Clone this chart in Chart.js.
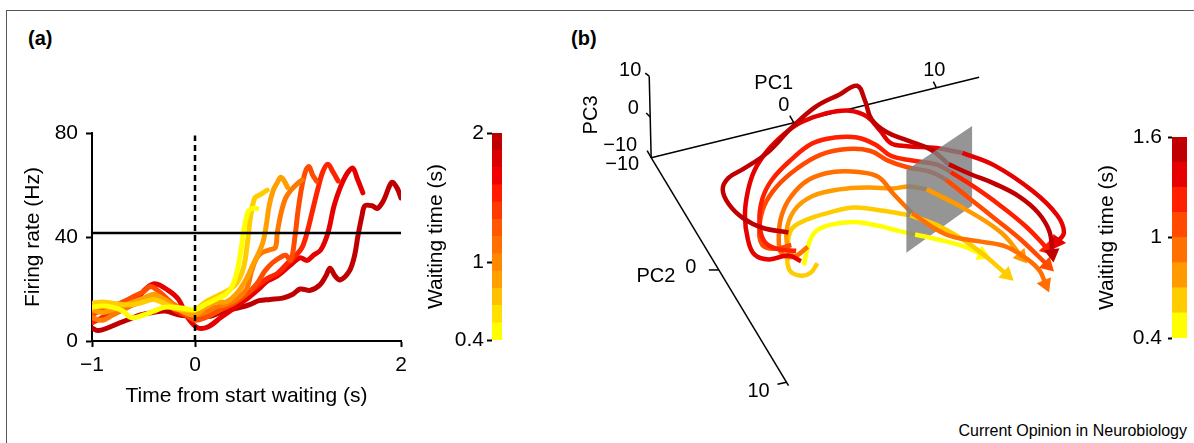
<!DOCTYPE html>
<html>
<head>
<meta charset="utf-8">
<script src="https://cdn.jsdelivr.net/npm/chart.js@4.4.1/dist/chart.umd.min.js"></script>
<style>
  html, body { margin: 0; padding: 0; background: #fff; }
  body { width: 1194px; height: 443px; position: relative; overflow: hidden;
         font-family: "Liberation Sans", Arial, Helvetica, sans-serif; color: #000; }
  canvas { position: absolute; }
  .frame { position: absolute; left: 6px; top: 10px; width: 1300px; height: 500px;
           border-left: 1px solid #555; border-top: 1px solid #555; }
  .panel { position: absolute; font-weight: bold; font-size: 20px; line-height: 20px; }
  .credit { position: absolute; right: 7px; top: 423px; font-size: 16px; line-height: 16px; }
</style>
</head>
<body>
<div class="frame"></div>
<div class="panel" style="left:28px; top:28px;">(a)</div>
<div class="panel" style="left:571px; top:28px;">(b)</div>
<div class="credit">Current Opinion in Neurobiology</div>

<canvas id="chartA" width="430" height="443" style="left:0; top:0;"></canvas>
<canvas id="barA" width="100" height="443" style="left:410px; top:0;"></canvas>
<canvas id="chartB" width="540" height="443" style="left:560px; top:0;"></canvas>
<canvas id="barB" width="104" height="443" style="left:1090px; top:0;"></canvas>

<script>
var FONT = '"Liberation Sans", Arial, Helvetica, sans-serif';

// Panel (a): firing rate (Hz) vs time from start waiting (s) ----------
var traceYellow = [[-1,13],[-0.9,13.5],[-0.8,13],[-0.7,11.5],[-0.62,9],[-0.5,10],[-0.4,11.5],[-0.3,13],[-0.2,13],[-0.1,12.5],[0,12],[0.1,14],[0.2,16],[0.3,18],[0.36,21],[0.41,27],[0.45,36],[0.48,44],[0.52,50],[0.56,51],[0.6,51]];
var traceGold = [[-1,14.5],[-0.9,15],[-0.8,14.5],[-0.7,14],[-0.6,14],[-0.5,15],[-0.4,16],[-0.3,14.5],[-0.2,12.5],[-0.1,12],[0,12],[0.1,15],[0.2,17],[0.3,19],[0.4,22],[0.47,28],[0.51,38],[0.54,48],[0.58,55],[0.62,56],[0.66,57],[0.7,58]];
var traceOrange = [[-1,12],[-0.9,11],[-0.8,12],[-0.7,13.5],[-0.6,15],[-0.5,16.5],[-0.4,18],[-0.3,16],[-0.2,13],[-0.1,11],[0,10],[0.1,13],[0.2,15],[0.3,15],[0.4,18],[0.5,24],[0.57,30],[0.62,34],[0.66,38],[0.69,44],[0.72,52],[0.76,58],[0.8,61],[0.83,63],[0.86,62],[0.9,59]];
var traceDarkOrange = [[-1,9],[-0.9,8],[-0.8,10],[-0.7,12],[-0.6,14],[-0.5,16],[-0.4,17],[-0.3,16],[-0.2,14],[-0.1,11],[0,10],[0.1,11],[0.2,13],[0.3,14],[0.4,16],[0.5,20],[0.55,27],[0.6,32],[0.65,34],[0.72,35],[0.78,36],[0.8,42],[0.84,50],[0.88,55],[0.93,58],[0.98,60],[1.04,62]];
var traceOrangeRed = [[-1,10],[-0.9,12],[-0.8,13],[-0.7,15],[-0.6,17],[-0.5,19],[-0.43,21],[-0.35,19],[-0.25,15.5],[-0.12,11],[0,8],[0.1,9],[0.2,11],[0.3,13],[0.4,15],[0.5,18],[0.6,22],[0.68,27],[0.75,30],[0.82,32],[0.88,33],[0.93,31],[0.97,40],[1.0,50],[1.04,60],[1.08,66],[1.11,67],[1.14,64],[1.18,61.5]];
var traceRedOrange = [[-1,7],[-0.9,9],[-0.8,11],[-0.7,13],[-0.6,14],[-0.5,16],[-0.4,17],[-0.3,15],[-0.2,12],[-0.1,10],[0,9.5],[0.1,10],[0.2,12],[0.3,14],[0.4,16],[0.5,18],[0.6,21],[0.7,24],[0.8,26],[0.9,30],[0.98,33],[1.04,36],[1.09,42],[1.14,50],[1.19,58],[1.24,65],[1.29,68],[1.34,65],[1.39,61.5]];
var traceRed = [[-1,10],[-0.91,12.5],[-0.77,14],[-0.68,15],[-0.55,17],[-0.48,20],[-0.39,22],[-0.26,19.5],[-0.16,16],[-0.07,9],[0.03,5],[0.13,5.5],[0.25,9],[0.39,13],[0.53,17],[0.62,20],[0.7,23],[0.8,25],[0.92,29],[1.02,32],[1.09,31],[1.15,33],[1.22,35],[1.29,41.5],[1.35,52],[1.41,59],[1.47,64],[1.53,66.5],[1.58,62],[1.63,57]];
var traceDarkRed = [[-1,5],[-0.94,4],[-0.85,5],[-0.73,7],[-0.63,8.5],[-0.53,10],[-0.4,11],[-0.29,11.5],[-0.15,10],[0,9.5],[0.15,9.5],[0.25,11],[0.34,12],[0.45,13],[0.53,14],[0.62,15.5],[0.73,16],[0.85,16.5],[0.95,18],[1.02,20],[1.12,19.5],[1.21,21.5],[1.27,25],[1.31,28],[1.36,25],[1.41,23.5],[1.5,27],[1.55,33],[1.58,40],[1.62,48],[1.65,52],[1.72,52],[1.77,51],[1.83,54],[1.91,61],[1.96,59],[2,55]];
var tracesA = [traceYellow, traceGold, traceOrange, traceDarkOrange, traceOrangeRed, traceRedOrange, traceRed, traceDarkRed];
var colorsA = ['#ffff00', '#ffcc00', '#ffa000', '#ff7800', '#ff4c00', '#ff2400', '#e60000', '#c00000'];
var thresholdHz = 41.5;
var xTicksA = [-1, 0, 2];
var yTicksA = [0, 40, 80];

// Colour bar (a): waiting time (s)
var edgesBarA = [0.4, 0.533, 0.667, 0.8, 0.933, 1.067, 1.2, 1.333, 1.467, 1.6, 1.733, 1.867, 2.0];
var colorsBarA = ['#ffff00', '#ffe000', '#ffc000', '#ffa000', '#ff8800', '#ff7000', '#ff5800', '#ff3a00', '#ff1a00', '#f00000', '#d80000', '#c00000'];
var ticksBarA = [0.4, 1, 2];

// Panel (b): trajectories in the projected PC view (view units) ----------
var trajDarkRed = [[22.7,23.3],[20.0,22.8],[18.0,21.8],[16.5,20.3],[15.9,18.8],[16.5,17.6],[18.0,16.7],[20.5,15.0],[23.0,12.4],[25.5,10.2],[28.0,8.9],[29.8,8.0],[30.6,9.5],[31.3,11.5],[32.8,12.8],[35.0,13.7],[37.5,14.7],[39.3,16.2],[41.5,17.2],[44.0,18.2],[46.5,19.5],[48.5,21.2],[49.7,23.2],[50.0,25.5]];
var trajRed = [[24.0,26.3],[22.7,25.7],[20.7,26.1],[19.2,25.6],[18.5,24.0],[18.2,21.5],[18.5,19.0],[19.2,16.8],[20.5,14.8],[22.3,13.0],[24.0,11.8],[26.5,10.9],[29.0,10.6],[30.8,11.2],[32.2,12.7],[33.3,14.0],[35.0,14.3],[38.0,14.5],[40.7,15.0],[44.0,16.3],[48.0,19.0],[50.5,21.5],[51.2,23.3],[50.5,24.3]];
var trajRedOrange = [[23.5,25.2],[21.5,25.0],[20.2,24.2],[19.7,22.2],[20.0,19.8],[21.0,17.8],[23.0,15.7],[25.2,14.0],[27.5,13.4],[29.8,13.4],[31.8,14.2],[33.3,15.3],[35.5,15.8],[38.0,16.2],[39.5,17.0],[42.0,18.6],[44.5,20.4],[47.3,22.7],[49.5,25.0]];
var trajOrangeRed = [[23.0,24.6],[21.2,25.0],[20.0,24.6],[19.7,22.8],[20.2,20.5],[21.5,18.5],[23.5,16.7],[26.0,15.2],[28.8,14.6],[31.2,14.8],[33.0,15.8],[35.0,16.5],[37.5,17.0],[39.0,17.8],[41.5,19.8],[44.0,21.8],[46.7,24.0],[49.5,26.7]];
var trajOrange = [[24.7,24.8],[23.3,25.8],[22.0,25.5],[21.7,23.8],[22.0,21.5],[23.0,19.5],[24.8,17.8],[27.3,17.0],[30.0,17.0],[32.0,17.5],[33.5,19.2],[35.5,21.3],[39.0,23.5],[42.3,24.2],[45.0,24.7],[47.3,26.0],[48.7,27.3],[49.3,28.7]];
var trajAmber = [[23.8,26.2],[22.8,25.2],[22.5,23.2],[23.3,21.0],[25.2,19.5],[28.0,18.8],[31.0,18.6],[33.5,18.7],[35.2,18.5],[37.0,18.8],[40.7,20.7],[44.7,23.3],[46.8,25.8]];
var trajGold = [[25.7,26.5],[25.0,27.5],[24.0,27.8],[22.8,27.2],[22.6,25.2],[23.0,23.0],[24.5,22.0],[27.0,21.2],[29.5,20.7],[32.3,21.0],[35.3,21.5],[38.0,22.5],[40.7,24.0],[43.0,25.7],[45.3,27.7]];
var trajYellow = [[24.3,26.7],[24.8,24.5],[25.5,23.2],[27.0,22.5],[29.5,22.2],[32.0,22.6],[34.0,23.1],[35.8,23.5],[38.5,24.1],[40.7,24.7],[42.8,25.6]];
var trajectoriesB = [trajDarkRed, trajRed, trajRedOrange, trajOrangeRed, trajOrange, trajAmber, trajGold, trajYellow];
var colorsB = ['#c00000', '#e60000', '#ff2000', '#ff4a00', '#ff7000', '#ff9a00', '#ffcc00', '#ffff00'];
// index of the point where each trajectory comes out through the plane
var planeCross = [17, 18, 14, 13, 11, 9, 10, 7];
// gray decision plane, view units
var planeOutline = [[34.9,16.8],[41.7,12.2],[41.7,20.5],[34.9,25.4],[34.9,16.8]];

// Colour bar (b)
var edgesBarB = [0.4, 0.55, 0.7, 0.85, 1.0, 1.15, 1.3, 1.45, 1.6];
var colorsBarB = ['#ffff00', '#ffcc00', '#ff9a00', '#ff7000', '#ff4a00', '#ff2000', '#e60000', '#c00000'];
var ticksBarB = [0.4, 1, 1.6];

// projection of the PC1/PC2/PC3 box onto the view plane
var viewOrigin = [8.5, 15.5];
var dirPC1 = [1.475, -0.365];
var dirPC2 = [0.70, 1.17];
var dirPC3 = [-0.01, -0.425];
function proj(p1, p2, p3) {
  return {
    x: viewOrigin[0] + (p1 + 10) * dirPC1[0] + (p2 + 10) * dirPC2[0] + (p3 + 10) * dirPC3[0],
    y: viewOrigin[1] + (p1 + 10) * dirPC1[1] + (p2 + 10) * dirPC2[1] + (p3 + 10) * dirPC3[1]
  };
}

function minusLabel(v) {
  var s = String(+Number(v).toFixed(2));
  return v < 0 ? '\u2212' + s.slice(1) : s;
}
function toXY(p) { return { x: p[0], y: p[1] }; }

// ---------- Panel (a) ----------
var datasetsA = [
  { data: [{ x: -1, y: thresholdHz }, { x: 2, y: thresholdHz }], borderColor: '#000', borderWidth: 2.5, order: 0 },
  { data: [{ x: 0, y: 0 }, { x: 0, y: 79 }], borderColor: '#000', borderWidth: 2.5, borderDash: [6, 4], order: 0 }
];
tracesA.forEach(function (tr, i) {
  datasetsA.push({
    data: tr.map(toXY), borderColor: colorsA[i], borderWidth: 5, tension: 0.35,
    borderCapStyle: 'round', borderJoinStyle: 'round', order: 1
  });
});

new Chart(document.getElementById('chartA'), {
  type: 'line',
  data: { datasets: datasetsA },
  options: {
    responsive: false, animation: false, devicePixelRatio: 1,
    layout: { padding: { left: 21, top: 133, right: 29, bottom: 34 } },
    plugins: { legend: { display: false }, tooltip: { enabled: false } },
    elements: { point: { radius: 0 } },
    scales: {
      x: {
        type: 'linear', min: -1, max: 2,
        afterBuildTicks: function (s) { s.ticks = xTicksA.map(function (v) { return { value: v }; }); },
        afterFit: function (s) { s.height = 68; },
        grid: { drawOnChartArea: false, drawTicks: true, tickLength: 6, tickWidth: 2, color: '#000', tickColor: '#000' },
        border: { display: true, color: '#000', width: 2 },
        ticks: { color: '#000', font: { family: FONT, size: 21 }, padding: 6, maxRotation: 0, callback: minusLabel },
        title: { display: true, text: 'Time from start waiting (s)', color: '#000', font: { family: FONT, size: 21 }, padding: 0 }
      },
      y: {
        type: 'linear', min: 0, max: 80,
        afterBuildTicks: function (s) { s.ticks = yTicksA.map(function (v) { return { value: v }; }); },
        afterFit: function (s) { s.width = 71; },
        grid: { drawOnChartArea: false, drawTicks: true, tickLength: 6, tickWidth: 2, color: '#000', tickColor: '#000' },
        border: { display: true, color: '#000', width: 2 },
        ticks: { color: '#000', font: { family: FONT, size: 21 }, padding: 8, callback: minusLabel },
        title: { display: true, text: 'Firing rate (Hz)', color: '#000', font: { family: FONT, size: 21 }, padding: 0 }
      }
    }
  }
});

// ---------- colour bars ----------
function colorBar(canvasId, edges, colors, ticks, pad, axisWidth, tickLen, tickPad) {
  var ds = colors.map(function (c, i) {
    return { data: [[edges[i], edges[i + 1]]], backgroundColor: c, borderWidth: 0, grouped: false,
             barPercentage: 1, categoryPercentage: 1 };
  });
  return new Chart(document.getElementById(canvasId), {
    type: 'bar',
    data: { labels: ['wait'], datasets: ds },
    options: {
      responsive: false, animation: false, devicePixelRatio: 1,
      layout: { padding: pad },
      plugins: { legend: { display: false }, tooltip: { enabled: false } },
      scales: {
        x: { display: false },
        y: {
          min: edges[0], max: edges[edges.length - 1],
          afterBuildTicks: function (s) { s.ticks = ticks.map(function (v) { return { value: v }; }); },
          afterFit: function (s) { s.width = axisWidth; },
          grid: { drawOnChartArea: false, drawTicks: true, tickLength: tickLen, tickWidth: 2, color: '#000', tickColor: '#000' },
          border: { display: false },
          ticks: { color: '#000', font: { family: FONT, size: 21 }, padding: tickPad, callback: minusLabel },
          title: { display: true, text: 'Waiting time (s)', color: '#000', font: { family: FONT, size: 21 }, padding: 0 }
        }
      }
    }
  });
}
colorBar('barA', edgesBarA, colorsBarA, ticksBarA, { left: 14, top: 133, right: 8, bottom: 103 }, 68, 5, 3);
colorBar('barB', edgesBarB, colorsBarB, ticksBarB, { left: 5, top: 137, right: 7, bottom: 105 }, 77, 4, 6);

// ---------- Panel (b) ----------
var axisTicks = [
  { pc: [-10, -10, -10], dx: -4, dy: -7 }, { pc: [0, -10, -10], dx: -4, dy: -7 }, { pc: [10, -10, -10], dx: -3, dy: -6 },
  { pc: [-10, -10, 0], dx: -4, dy: -4 }, { pc: [-10, -10, 10], dx: -4, dy: -3 },
  { pc: [-10, 0, -10], dx: -10, dy: 0 }, { pc: [-10, 10, -10], dx: -9, dy: 2 }
];
var axisLabels = [
  { text: 'PC1', pc: [0, -10, -10], dx: -20, dy: -39 },
  { text: '0', pc: [0, -10, -10], dx: -10, dy: -17 },
  { text: '10', pc: [10, -10, -10], dx: -2, dy: -17 },
  { text: 'PC3', pc: [-10, -10, 0], dx: -59, dy: -2, rot: -Math.PI / 2 },
  { text: '10', pc: [-10, -10, 10], dx: -19, dy: -6 },
  { text: '0', pc: [-10, -10, 0], dx: -17, dy: -8 },
  { text: '\u221210', pc: [-10, -10, -10], dx: -31, dy: -12 },
  { text: 'PC2', pc: [-10, 0, -10], dx: -63, dy: 7 },
  { text: '0', pc: [-10, 0, -10], dx: -28, dy: -2 },
  { text: '10', pc: [-10, 10, -10], dx: -28, dy: 9 },
  { text: '\u221210', pc: [-10, -10, -10], dx: -29, dy: 7 }
];

var axisDeco = {
  id: 'axisDeco',
  afterDatasetsDraw: function (chart) {
    var ctx = chart.ctx, xs = chart.scales.x, ys = chart.scales.y;
    function px(p) { var q = proj(p[0], p[1], p[2]); return [xs.getPixelForValue(q.x), ys.getPixelForValue(q.y)]; }
    ctx.save();
    ctx.strokeStyle = '#000';
    ctx.lineWidth = 1.5;
    axisTicks.forEach(function (t) {
      var p = px(t.pc);
      ctx.beginPath(); ctx.moveTo(p[0], p[1]); ctx.lineTo(p[0] + t.dx, p[1] + t.dy); ctx.stroke();
    });
    ctx.fillStyle = '#000';
    ctx.font = '20px ' + FONT;
    ctx.textAlign = 'center';
    ctx.textBaseline = 'middle';
    axisLabels.forEach(function (l) {
      var p = px(l.pc);
      ctx.save();
      ctx.translate(p[0] + l.dx, p[1] + l.dy);
      if (l.rot) ctx.rotate(l.rot);
      ctx.fillText(l.text, 0, 0);
      ctx.restore();
    });
    ctx.restore();
  }
};

var o = proj(-10, -10, -10);
var datasetsB = [
  { data: [o, proj(13, -10, -10)], borderColor: '#000', borderWidth: 1.5, order: 6 },
  { data: [o, proj(-10, -10, 10)], borderColor: '#000', borderWidth: 1.5, order: 6 },
  { data: [o, proj(-10, 10.3, -10)], borderColor: '#000', borderWidth: 1.5, order: 6 },
  { data: planeOutline.map(toXY), borderWidth: 0, borderColor: 'rgba(0,0,0,0)', fill: 'shape',
    backgroundColor: 'rgba(128,128,128,0.83)', tension: 0, order: 3 }
];
trajectoriesB.forEach(function (tr, i) {
  var k = planeCross[i];
  var back = tr.slice(0, k + 1).map(toXY);
  var front = tr.slice(k).map(toXY);
  var n = front.length;
  var a = front[n - 2], b = front[n - 1];
  var rot = Math.atan2(b.x - a.x, -(b.y - a.y)) * 180 / Math.PI;
  datasetsB.push({ data: back, borderColor: colorsB[i], borderWidth: 4.5, tension: 0.4,
                   borderJoinStyle: 'round', order: 4 });
  datasetsB.push({ data: front, borderColor: colorsB[i], borderWidth: 4.5, tension: 0.4,
                   borderJoinStyle: 'round', order: 1,
                   pointRadius: front.map(function (p, j) { return j === n - 1 ? 9 : 0; }),
                   pointStyle: 'triangle', rotation: rot,
                   pointBackgroundColor: colorsB[i], pointBorderWidth: 0 });
});

new Chart(document.getElementById('chartB'), {
  type: 'scatter',
  data: { datasets: datasetsB },
  options: {
    responsive: false, animation: false, devicePixelRatio: 1,
    showLine: true,
    layout: { padding: 0 },
    plugins: { legend: { display: false }, tooltip: { enabled: false } },
    elements: { point: { radius: 0 } },
    scales: {
      x: { type: 'linear', display: false, min: 0, max: 54 },
      y: { type: 'linear', display: false, min: 0, max: 44.3, reverse: true }
    }
  },
  plugins: [axisDeco]
});
</script>
</body>
</html>
